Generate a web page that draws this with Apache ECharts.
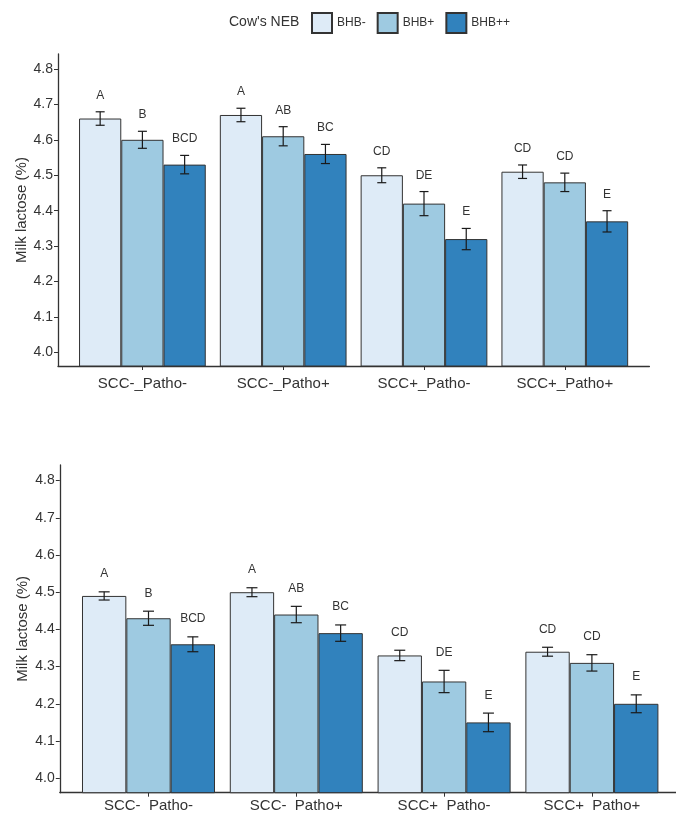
<!DOCTYPE html>
<html>

<head>
    <meta charset="utf-8">
    <script src="https://cdn.jsdelivr.net/npm/echarts@6/dist/echarts.min.js"></script>
</head>

<body style="margin:0">
    <div id="main" style="width: 676px;height:813px;"></div>

    <script type="text/javascript">
        // data
        var groups = ['BHB-', 'BHB+', 'BHB++'];
        var catsTop = ['SCC-_Patho-', 'SCC-_Patho+', 'SCC+_Patho-', 'SCC+_Patho+'];
        var catsBottom = ['SCC-  Patho-', 'SCC-  Patho+', 'SCC+  Patho-', 'SCC+  Patho+'];
        var yTicks = [4.0, 4.1, 4.2, 4.3, 4.4, 4.5, 4.6, 4.7, 4.8];

        var topMinus = [4.66, 4.67, 4.50, 4.51];
        var topPlus = [4.60, 4.61, 4.42, 4.48];
        var topPP = [4.53, 4.56, 4.32, 4.37];
        var topErrMinus = [0.019, 0.019, 0.021, 0.019];
        var topErrPlus = [0.024, 0.027, 0.034, 0.026];
        var topErrPP = [0.026, 0.027, 0.030, 0.030];

        var botMinus = [4.49, 4.50, 4.33, 4.34];
        var botPlus = [4.43, 4.44, 4.26, 4.31];
        var botPP = [4.36, 4.39, 4.15, 4.20];
        var botErrMinus = [0.011, 0.012, 0.014, 0.012];
        var botErrPlus = [0.019, 0.022, 0.030, 0.022];
        var botErrPP = [0.020, 0.022, 0.025, 0.024];

        var lettersMinus = ['A', 'A', 'CD', 'CD'];
        var lettersPlus = ['B', 'AB', 'DE', 'CD'];
        var lettersPP = ['BCD', 'BC', 'E', 'E'];

        var colors = ['#deebf7', '#9ecae1', '#3182bd'];
        var font = 'Liberation Sans, Arial, sans-serif';
        var ink = '#333';

        var myChart = echarts.init(document.getElementById('main'));

        function frameAxes(gi, yMin, yMax) {
            return {
                x: {
                    type: 'value', gridIndex: gi, min: 0, max: 1,
                    axisLine: { show: true, lineStyle: { color: ink, width: 1.3 } },
                    axisTick: { show: false }, axisLabel: { show: false }, splitLine: { show: false }
                },
                y: {
                    type: 'value', gridIndex: gi, min: yMin, max: yMax,
                    name: 'Milk lactose (%)', nameLocation: 'middle', nameGap: 29, nameMoveOverlap: false,
                    nameTextStyle: { fontFamily: font, fontSize: 15, color: ink },
                    axisLine: { show: true, lineStyle: { color: ink, width: 1.3 } },
                    axisTick: { show: true, length: 4, customValues: yTicks, lineStyle: { color: ink } },
                    axisLabel: {
                        customValues: yTicks, fontFamily: font, fontSize: 14, color: ink, margin: 5,
                        formatter: function(v) { return v.toFixed(1); }
                    },
                    splitLine: { show: false }
                }
            };
        }

        function barAxes(gi, cats, yMin, yMax, labelGap) {
            return {
                x: {
                    type: 'category', gridIndex: gi, data: cats,
                    axisLine: { show: false },
                    axisTick: { show: true, alignWithLabel: true, length: 4, lineStyle: { color: ink } },
                    axisLabel: { fontFamily: font, fontSize: 15, color: ink, margin: labelGap },
                    splitLine: { show: false }
                },
                y: { type: 'value', gridIndex: gi, min: yMin, max: yMax, show: false }
            };
        }

        function errRender(k, errs, letters, cap, lift) {
            return function(params, api) {
                var i = params.dataIndex;
                var lo = api.value(1), hi = api.value(2);
                var band = api.size([1, 0])[0];
                var cx = api.coord([i, hi])[0] + (k - 1) * band * 0.3;
                var yHi = api.coord([i, hi])[1];
                var yLo = api.coord([i, lo])[1];
                var yLab = api.coord([i, hi + lift])[1];
                var st = { stroke: '#1a1a1a', lineWidth: 1.2 };
                return {
                    type: 'group',
                    children: [
                        { type: 'line', shape: { x1: cx, y1: yHi, x2: cx, y2: yLo }, style: st },
                        { type: 'line', shape: { x1: cx - cap / 2, y1: yHi, x2: cx + cap / 2, y2: yHi }, style: st },
                        { type: 'line', shape: { x1: cx - cap / 2, y1: yLo, x2: cx + cap / 2, y2: yLo }, style: st },
                        {
                            type: 'text', x: cx, y: yLab,
                            style: {
                                text: letters[i], fill: ink, font: '12px ' + font,
                                textAlign: 'center', textVerticalAlign: 'middle'
                            }
                        }
                    ]
                };
            };
        }

        function panelSeries(xi, means, errs, letters, cap, lift) {
            var out = [];
            for (var k = 0; k < 3; k++) {
                out.push({
                    name: groups[k], type: 'bar', xAxisIndex: xi, yAxisIndex: xi,
                    data: means[k], barWidth: '30%', barGap: '0%',
                    itemStyle: { color: colors[k], borderColor: ink, borderWidth: 1 }
                });
            }
            for (var k2 = 0; k2 < 3; k2++) {
                var d = means[k2].map(function(m, i) { return [i, m - errs[k2][i], m + errs[k2][i]]; });
                out.push({
                    type: 'custom', xAxisIndex: xi, yAxisIndex: xi, z: 5, clip: false,
                    data: d, renderItem: errRender(k2, errs[k2], letters[k2], cap, lift)
                });
            }
            return out;
        }

        var yMin = 3.962, yMax = 4.842;
        var f0 = frameAxes(0, yMin, yMax);
        var b1 = barAxes(1, catsTop, yMin, yMax, 10);
        var f2 = frameAxes(2, 3.961, yMax);
        var b3 = barAxes(3, catsBottom, 3.961, yMax, 6);
        var letters = [lettersMinus, lettersPlus, lettersPP];

        var option = {
            animation: false,
            title: {
                text: "Cow's NEB", left: 224, top: 10,
                textStyle: { fontFamily: font, fontSize: 14, fontWeight: 'normal', color: ink }
            },
            legend: {
                data: groups, left: 306, top: 7, icon: 'rect',
                itemWidth: 20, itemHeight: 20, itemGap: 11,
                textStyle: { fontFamily: font, fontSize: 12, color: ink }
            },
            grid: [
                { left: 58, right: 26.6, top: 54, height: 312, outerBoundsMode: 'none' },
                { left: 72, right: 40.8, top: 54, height: 312, outerBoundsMode: 'none' },
                { left: 59.8, right: 0, top: 465, height: 327.7, outerBoundsMode: 'none' },
                { left: 74.6, right: 10.2, top: 465, height: 327.7, outerBoundsMode: 'none' }
            ],
            xAxis: [f0.x, b1.x, f2.x, b3.x],
            yAxis: [f0.y, b1.y, f2.y, b3.y],
            series: [].concat(
                panelSeries(1, [topMinus, topPlus, topPP], [topErrMinus, topErrPlus, topErrPP], letters, 9, 0.046),
                panelSeries(3, [botMinus, botPlus, botPP], [botErrMinus, botErrPlus, botErrPP], letters, 11, 0.048)
            )
        };
        myChart.setOption(option);
    </script>
</body>

</html>
